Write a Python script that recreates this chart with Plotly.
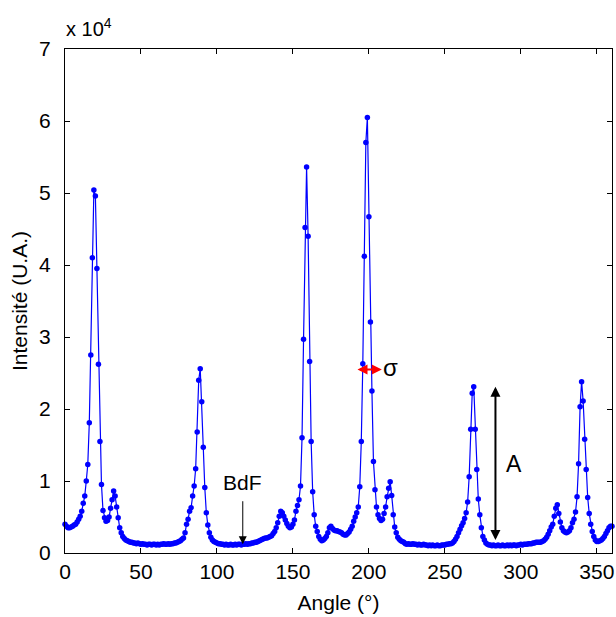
import plotly.graph_objects as go

# Angle (degrees), 1-degree sampling
angles = list(range(0, 361))

# Intensity in units of 1e4 (U.A.)
intensity_e4 = [
    0.40, 0.37, 0.35, 0.35, 0.36, 0.37, 0.39, 0.40, 0.43, 0.47,   # 0-9
    0.51, 0.58, 0.69, 0.79, 1.00, 1.23, 1.81, 2.75, 4.10, 5.04,   # 10-19
    4.96, 3.95, 2.62, 1.55, 0.95, 0.59, 0.49, 0.44, 0.45, 0.50,   # 20-29
    0.62, 0.74, 0.86, 0.79, 0.64, 0.49, 0.35, 0.28, 0.23, 0.20,   # 30-39
    0.18, 0.17, 0.16, 0.15, 0.15, 0.14, 0.14, 0.13, 0.14, 0.13,   # 40-49
    0.12, 0.13, 0.12, 0.12, 0.11, 0.12, 0.12, 0.11, 0.12, 0.12,   # 50-59
    0.11, 0.12, 0.11, 0.12, 0.12, 0.13, 0.12, 0.12, 0.13, 0.12,   # 60-69
    0.13, 0.13, 0.14, 0.14, 0.15, 0.16, 0.17, 0.19, 0.21, 0.28,   # 70-79
    0.40, 0.47, 0.58, 0.63, 0.79, 0.93, 1.17, 1.68, 2.40, 2.56,   # 80-89
    2.10, 1.47, 0.91, 0.56, 0.39, 0.28, 0.22, 0.18, 0.16, 0.15,   # 90-99
    0.14, 0.13, 0.13, 0.12, 0.12, 0.11, 0.12, 0.11, 0.11, 0.12,   # 100-109
    0.11, 0.11, 0.12, 0.11, 0.12, 0.12, 0.11, 0.12, 0.12, 0.13,   # 110-119
    0.12, 0.13, 0.13, 0.14, 0.14, 0.15, 0.15, 0.16, 0.17, 0.18,   # 120-129
    0.19, 0.20, 0.21, 0.21, 0.22, 0.23, 0.24, 0.27, 0.30, 0.35,   # 130-139
    0.42, 0.51, 0.58, 0.56, 0.51, 0.46, 0.41, 0.37, 0.35, 0.36,   # 140-149
    0.40, 0.46, 0.58, 0.66, 0.74, 0.93, 1.60, 2.97, 4.52, 5.36,   # 150-159
    4.40, 2.66, 1.55, 0.85, 0.53, 0.37, 0.30, 0.23, 0.19, 0.17,   # 160-169
    0.18, 0.20, 0.23, 0.28, 0.35, 0.37, 0.34, 0.32, 0.31, 0.31,   # 170-179
    0.30, 0.29, 0.28, 0.26, 0.25, 0.25, 0.27, 0.29, 0.33, 0.37,   # 180-189
    0.44, 0.50, 0.56, 0.64, 0.92, 1.55, 2.63, 4.12, 5.70, 6.05,   # 190-199
    4.67, 3.21, 2.25, 1.27, 0.88, 0.64, 0.53, 0.48, 0.45, 0.47,   # 200-209
    0.55, 0.64, 0.78, 0.90, 0.99, 0.80, 0.53, 0.36, 0.28, 0.22,   # 210-219
    0.19, 0.17, 0.16, 0.15, 0.13, 0.12, 0.13, 0.12, 0.12, 0.13,   # 220-229
    0.12, 0.12, 0.11, 0.12, 0.11, 0.11, 0.12, 0.11, 0.11, 0.10,   # 230-239
    0.11, 0.10, 0.11, 0.10, 0.10, 0.11, 0.10, 0.10, 0.11, 0.11,   # 240-249
    0.11, 0.12, 0.12, 0.13, 0.13, 0.14, 0.16, 0.19, 0.23, 0.28,   # 250-259
    0.33, 0.38, 0.42, 0.48, 0.56, 0.71, 1.06, 1.72, 2.22, 2.31,   # 260-269
    1.72, 1.16, 0.75, 0.53, 0.35, 0.23, 0.18, 0.14, 0.12, 0.11,   # 270-279
    0.11, 0.10, 0.11, 0.10, 0.10, 0.11, 0.10, 0.10, 0.11, 0.10,   # 280-289
    0.10, 0.11, 0.10, 0.11, 0.10, 0.11, 0.11, 0.10, 0.11, 0.11,   # 290-299
    0.12, 0.11, 0.12, 0.12, 0.12, 0.13, 0.13, 0.13, 0.14, 0.14,   # 300-309
    0.15, 0.15, 0.15, 0.15, 0.16, 0.17, 0.19, 0.22, 0.26, 0.31,   # 310-319
    0.36, 0.40, 0.51, 0.62, 0.67, 0.55, 0.43, 0.35, 0.31, 0.29,   # 320-329
    0.28, 0.29, 0.31, 0.35, 0.42, 0.47, 0.57, 0.78, 1.24, 2.03,   # 330-339
    2.38, 2.11, 1.58, 1.16, 0.77, 0.55, 0.40, 0.30, 0.23, 0.18,   # 340-349
    0.16, 0.16, 0.17, 0.18, 0.20, 0.23, 0.27, 0.31, 0.35, 0.37,   # 350-359
    0.37,                                                         # 360
]

x_ticks = [0, 50, 100, 150, 200, 250, 300, 350]
y_ticks = [0, 1, 2, 3, 4, 5, 6, 7]

# annotation values (data coordinates)
bdf_angle = 117
bdf_top, bdf_tip = 0.74, 0.12
a_angle = 283.3
a_low, a_high = 0.16, 2.31
sigma_level = 2.55
sigma_left, sigma_right = 191.5, 208.5

FONT = "Liberation Sans, Arial, sans-serif"
FS = 21

fig = go.Figure()
fig.add_trace(go.Scatter(
    x=angles, y=intensity_e4, mode="lines+markers",
    line=dict(color="#0000ff", width=1.2),
    marker=dict(color="#0000ff", size=5.5),
    cliponaxis=False, showlegend=False,
))

ann = []
# BdF
ann.append(dict(x=bdf_angle, y=0.98, xref="x", yref="y", text="BdF", showarrow=False,
                font=dict(family=FONT, size=FS, color="black")))
ann.append(dict(x=bdf_angle, y=bdf_tip, ax=bdf_angle, ay=bdf_top, xref="x", yref="y",
                axref="x", ayref="y", text="", showarrow=True, arrowhead=2,
                arrowsize=1.6, arrowwidth=1, arrowcolor="black"))
# A double arrow
ann.append(dict(x=a_angle, y=a_high, ax=a_angle, ay=a_low, xref="x", yref="y",
                axref="x", ayref="y", text="", showarrow=True, arrowhead=2,
                startarrowhead=2, arrowside="end+start", arrowsize=1, startarrowsize=1,
                arrowwidth=2, arrowcolor="black"))
ann.append(dict(x=295.5, y=1.23, xref="x", yref="y", text="A", showarrow=False,
                font=dict(family=FONT, size=FS + 2, color="black")))
# sigma double arrow
ann.append(dict(x=sigma_right, y=sigma_level, ax=sigma_left, ay=sigma_level, xref="x", yref="y",
                axref="x", ayref="y", text="", showarrow=True, arrowhead=2,
                startarrowhead=2, arrowside="end+start", arrowsize=1, startarrowsize=1,
                arrowwidth=2, arrowcolor="red"))
ann.append(dict(x=214.5, y=sigma_level + 0.03, xref="x", yref="y", text="σ", showarrow=False,
                font=dict(family=FONT, size=FS + 3, color="black")))
# exponent label
ann.append(dict(x=0, y=1, xref="paper", yref="paper", xanchor="left", yanchor="bottom",
                xshift=-1, yshift=7, text="x 10<sup>4</sup>", showarrow=False,
                font=dict(family=FONT, size=FS - 1, color="black")))

fig.update_layout(
    width=616, height=617,
    margin=dict(l=65, r=4, t=49, b=64),
    paper_bgcolor="white", plot_bgcolor="white",
    font=dict(family=FONT, size=FS, color="black"),
    annotations=ann,
    xaxis=dict(
        range=[0, 360], tickvals=x_ticks, ticks="inside", ticklen=5, tickcolor="black",
        showline=True, linecolor="black", linewidth=1, mirror="ticks",
        showgrid=False, zeroline=False, automargin=False,
        title=dict(text="Angle (°)", font=dict(family=FONT, size=FS), standoff=13),
        tickfont=dict(family=FONT, size=FS),
    ),
    yaxis=dict(
        range=[0, 7], tickvals=y_ticks, ticks="inside", ticklen=5, tickcolor="black",
        showline=True, linecolor="black", linewidth=1, mirror="ticks",
        showgrid=False, zeroline=False, automargin=False,
        ticklabelstandoff=9,
        title=dict(text="Intensité (U.A.)", font=dict(family=FONT, size=FS), standoff=5),
        tickfont=dict(family=FONT, size=FS),
    ),
)

fig.write_html(
    "out.html",
    config={"displayModeBar": False},
    post_script="document.body.style.margin='0';document.body.style.overflow='hidden';",
)
